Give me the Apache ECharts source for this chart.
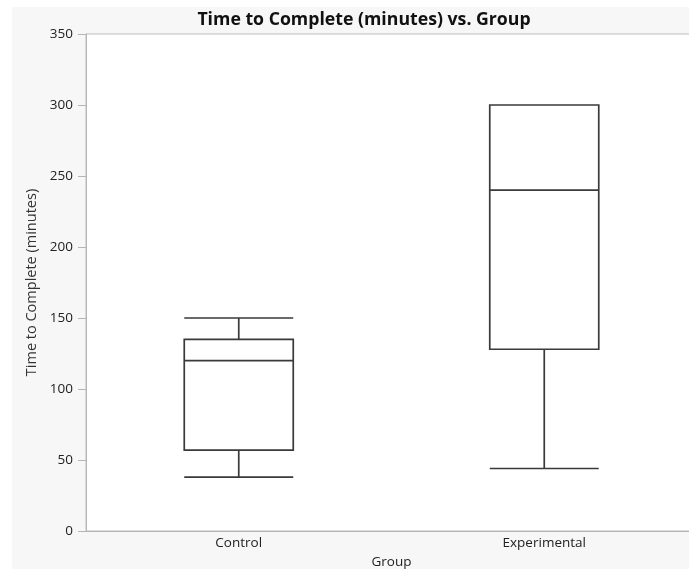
<!DOCTYPE html>
<html>
<head>
<meta charset="utf-8">
<script src="https://cdn.jsdelivr.net/npm/echarts@6/dist/echarts.min.js"></script>
<style>
  html, body { margin: 0; padding: 0; background: #ffffff; }
  #chart { width: 689px; height: 569px; }
</style>
</head>
<body>
<div id="chart"></div>
<script>
// Groups on the x axis
const groups = ['Control', 'Experimental'];
// Five-number summaries per group: [min, Q1, median, Q3, max]
const controlStats = [38, 57, 120, 135, 150];
const experimentalStats = [44, 128, 240, 300, 300];
// Y axis range and step
const yMin = 0;
const yMax = 350;
const yStep = 50;

const FONT = '"Open Sans", "Noto Sans", sans-serif';

const chart = echarts.init(document.getElementById('chart'), null, { renderer: 'canvas' });

chart.setOption({
  animation: false,
  backgroundColor: '#ffffff',
  graphic: [
    {
      type: 'rect',
      z: -10,
      shape: { x: 12, y: 7, width: 700, height: 600 },
      style: { fill: '#f7f7f7' },
      silent: true
    }
  ],
  title: {
    text: 'Time to Complete (minutes) vs. Group',
    left: 359,
    top: 6,
    textAlign: 'center',
    textStyle: { fontFamily: FONT, fontWeight: 'bold', fontSize: 17.7, color: '#111' }
  },
  grid: {
    left: 86,
    top: 34,
    right: -8,
    bottom: 38,
    outerBoundsMode: 'none',
    containLabel: false,
    show: true,
    backgroundColor: '#ffffff',
    borderColor: '#bdbdbd',
    borderWidth: 1
  },
  xAxis: {
    type: 'category',
    data: groups,
    boundaryGap: true,
    name: 'Group',
    nameLocation: 'middle',
    nameGap: 24,
    nameTextStyle: { fontFamily: FONT, fontSize: 13.5, color: '#222' },
    axisLine: { lineStyle: { color: '#b5b5b5', width: 1 } },
    axisTick: { show: false },
    axisLabel: { fontFamily: FONT, fontSize: 13.5, color: '#222', margin: 5 },
    splitLine: { show: false }
  },
  yAxis: {
    type: 'value',
    min: yMin,
    max: yMax,
    interval: yStep,
    name: 'Time to Complete (minutes)',
    nameLocation: 'middle',
    nameGap: 45,
    nameTextStyle: { fontFamily: FONT, fontSize: 14.5, color: '#333' },
    axisLine: { show: true, lineStyle: { color: '#b5b5b5', width: 1 } },
    axisTick: { show: true, length: 8, lineStyle: { color: '#b5b5b5' } },
    axisLabel: { fontFamily: FONT, fontSize: 13.5, color: '#222', margin: 13 },
    splitLine: { show: false }
  },
  series: [
    {
      type: 'boxplot',
      data: [controlStats, experimentalStats],
      boxWidth: [109, 109],
      itemStyle: { color: '#ffffff', borderColor: '#3a3a3a', borderWidth: 1.7 },
      emphasis: { disabled: true }
    }
  ]
});
</script>
</body>
</html>
